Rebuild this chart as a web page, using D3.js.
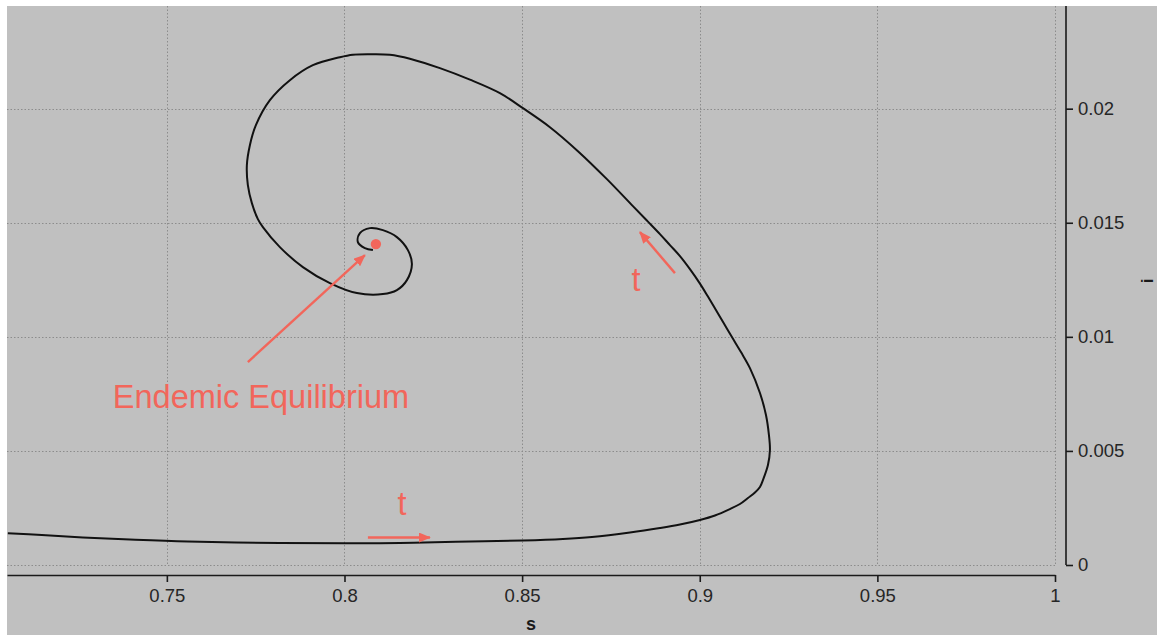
<!DOCTYPE html>
<html>
<head>
<meta charset="utf-8">
<script src="https://cdn.jsdelivr.net/npm/d3@7"></script>
<style>
  html, body { margin: 0; padding: 0; background: #ffffff; }
  svg { display: block; }
</style>
</head>
<body>
<svg id="chart" width="1157" height="635"></svg>
<script>
// Phase-plane trajectory of susceptible (s) vs infected (i) fractions
const trajS = [
  0.70524, 0.71481, 0.72635, 0.73958, 0.75591, 0.78181, 0.80039, 0.81560, 0.83136, 0.85023,
  0.86149, 0.86965, 0.88035, 0.88880, 0.89443, 0.90006, 0.90428, 0.90850, 0.91132, 0.91357,
  0.91554, 0.91695, 0.91779, 0.91920, 0.91976, 0.91948, 0.91864, 0.91695, 0.91413, 0.91160,
  0.90906, 0.90681, 0.90456, 0.90231, 0.90006, 0.89724, 0.89443, 0.89161, 0.88880, 0.88542,
  0.88119, 0.87387, 0.86571, 0.85783, 0.85023, 0.84375, 0.83530, 0.82686, 0.81841, 0.81278,
  0.80715, 0.80236, 0.79870, 0.79110, 0.78463, 0.77900, 0.77506, 0.77337, 0.77252, 0.77280,
  0.77393, 0.77562, 0.77703, 0.78181, 0.78829, 0.79589, 0.80349, 0.81081, 0.81475, 0.81757,
  0.81898, 0.81785, 0.81475, 0.81081, 0.80715, 0.80434, 0.80377, 0.80574, 0.80800
];
const trajI = [
  0.001389, 0.001314, 0.001205, 0.001117, 0.001030, 0.000964, 0.000955, 0.000964, 0.001016, 0.001073,
  0.001139, 0.001227, 0.001424, 0.001621, 0.001774, 0.001972, 0.002169, 0.002453, 0.002673, 0.002935,
  0.003176, 0.003417, 0.003724, 0.004381, 0.005038, 0.005695, 0.006572, 0.007536, 0.008631, 0.009332,
  0.009989, 0.010581, 0.011172, 0.011763, 0.012333, 0.012968, 0.013538, 0.014020, 0.014502, 0.015049,
  0.015728, 0.016911, 0.018138, 0.019189, 0.020022, 0.020679, 0.021271, 0.021775, 0.022191, 0.022366,
  0.022388, 0.022366, 0.022256, 0.021906, 0.021249, 0.020372, 0.019277, 0.018401, 0.017525, 0.016649,
  0.015860, 0.015159, 0.014808, 0.013932, 0.013056, 0.012355, 0.011917, 0.011873, 0.012048, 0.012486,
  0.013187, 0.013801, 0.014370, 0.014677, 0.014765, 0.014546, 0.014151, 0.013888, 0.013801
];

// Endemic equilibrium point
const equilibrium = { s: 0.80884, i: 0.014064 };

// Axis ticks
const xTicks = [0.75, 0.8, 0.85, 0.9, 0.95, 1];
const xTickLabels = ["0.75", "0.8", "0.85", "0.9", "0.95", "1"];
const yTicks = [0, 0.005, 0.01, 0.015, 0.02];
const yTickLabels = ["0", "0.005", "0.01", "0.015", "0.02"];

// Annotations (in data units)
const arrowLines = [
  { s0: 0.77280, i0: 0.008894, s1: 0.80574, i1: 0.013582 },
  { s0: 0.89302, i0: 0.012793, s1: 0.88316, i1: 0.014589 },
  { s0: 0.80659, i0: 0.001205, s1: 0.82404, i1: 0.001205 }
];
const noteTexts = [
  { s: 0.73480, i: 0.006878, text: "Endemic Equilibrium", anchor: "start" },
  { s: 0.88204, i: 0.012004, text: "t", anchor: "middle" },
  { s: 0.81616, i: 0.002191, text: "t", anchor: "middle" }
];

const W = 1157, H = 635;
const plotLeft = 7, plotRight = 1055, plotTop = 6, plotBottom = 565;
const xAxisY = 575, yAxisX = 1066;
const noteColor = "#f2665b";
const tickFont = "'Liberation Sans', Arial, sans-serif";

const svg = d3.select("#chart");

const x = d3.scaleLinear().domain([0.705, 1]).range([plotLeft, plotRight]);
const y = d3.scaleLinear().domain([0, 0.0245]).range([plotBottom, plotTop]);

// panel background
svg.append("rect")
  .attr("x", plotLeft).attr("y", plotTop)
  .attr("width", W - plotLeft).attr("height", H - plotTop)
  .attr("fill", "#c0c0c0");

// dotted grid
const grid = svg.append("g").attr("stroke", "#8c8c8c").attr("stroke-width", 1)
  .attr("stroke-dasharray", "1.5,2");
grid.selectAll("line.v").data(xTicks).join("line")
  .attr("class", "v")
  .attr("x1", d => Math.round(x(d)) + 0.5).attr("x2", d => Math.round(x(d)) + 0.5)
  .attr("y1", plotTop).attr("y2", plotBottom);
grid.selectAll("line.h").data(yTicks).join("line")
  .attr("class", "h")
  .attr("y1", d => Math.round(y(d)) + 0.5).attr("y2", d => Math.round(y(d)) + 0.5)
  .attr("x1", plotLeft).attr("x2", plotRight);

// bottom axis
const xAxis = d3.axisBottom(x)
  .tickValues(xTicks)
  .tickFormat((d, k) => xTickLabels[k])
  .tickSizeInner(7).tickSizeOuter(0).tickPadding(7);
const gx = svg.append("g").attr("transform", `translate(0,${xAxisY})`).call(xAxis);
gx.select(".domain").attr("stroke", "#1a1a1a").attr("stroke-width", 1.6);
gx.selectAll(".tick line").attr("stroke", "#1a1a1a").attr("stroke-width", 1.6);
gx.selectAll(".tick text")
  .attr("font-family", tickFont)
  .attr("font-size", 18.5).attr("fill", "#262626");

// right axis
const yAxis = d3.axisRight(y)
  .tickValues(yTicks)
  .tickFormat((d, k) => yTickLabels[k])
  .tickSizeInner(7).tickSizeOuter(0).tickPadding(5);
const gy = svg.append("g").attr("transform", `translate(${yAxisX},0)`).call(yAxis);
gy.select(".domain").attr("stroke", "#1a1a1a").attr("stroke-width", 1.6)
  .attr("d", `M0,${plotTop}V${y(0)}`);
gy.selectAll(".tick line").attr("stroke", "#1a1a1a").attr("stroke-width", 1.6);
gy.selectAll(".tick text")
  .attr("font-family", tickFont)
  .attr("font-size", 18.5).attr("fill", "#262626");

// axis titles
svg.append("text")
  .attr("x", x(0.8525)).attr("y", 630)
  .attr("text-anchor", "middle")
  .attr("font-family", tickFont)
  .attr("font-weight", "bold").attr("font-size", 18).attr("fill", "#1a1a1a")
  .text("s");
svg.append("text")
  .attr("transform", `translate(1153,281) rotate(-90)`)
  .attr("text-anchor", "middle")
  .attr("font-family", tickFont)
  .attr("font-weight", "bold").attr("font-size", 17).attr("fill", "#1a1a1a")
  .text("i");

// trajectory
const pts = trajS.map((s, k) => [s, trajI[k]]);
const line = d3.line()
  .x(d => x(d[0])).y(d => y(d[1]))
  .curve(d3.curveCatmullRom.alpha(0.5));
svg.append("path")
  .datum(pts)
  .attr("d", line)
  .attr("fill", "none")
  .attr("stroke", "#111")
  .attr("stroke-width", 2)
  .attr("stroke-linejoin", "round");

// equilibrium point
svg.append("circle")
  .attr("cx", x(equilibrium.s)).attr("cy", y(equilibrium.i))
  .attr("r", 5.2).attr("fill", noteColor);

// annotation arrows
const defs = svg.append("defs");
defs.append("marker")
  .attr("id", "head")
  .attr("viewBox", "0 0 12 10")
  .attr("refX", 11).attr("refY", 5)
  .attr("markerWidth", 12).attr("markerHeight", 10)
  .attr("markerUnits", "userSpaceOnUse")
  .attr("orient", "auto")
  .append("path").attr("d", "M0,0L12,5L0,10Z").attr("fill", noteColor);

svg.append("g").selectAll("line").data(arrowLines).join("line")
  .attr("x1", d => x(d.s0)).attr("y1", d => y(d.i0))
  .attr("x2", d => x(d.s1)).attr("y2", d => y(d.i1))
  .attr("stroke", noteColor).attr("stroke-width", 2.4)
  .attr("marker-end", "url(#head)");

svg.append("g").selectAll("text").data(noteTexts).join("text")
  .attr("x", d => x(d.s)).attr("y", d => y(d.i))
  .attr("text-anchor", d => d.anchor)
  .attr("font-family", tickFont)
  .attr("font-size", 32.5).attr("fill", noteColor)
  .text(d => d.text);
</script>
</body>
</html>
